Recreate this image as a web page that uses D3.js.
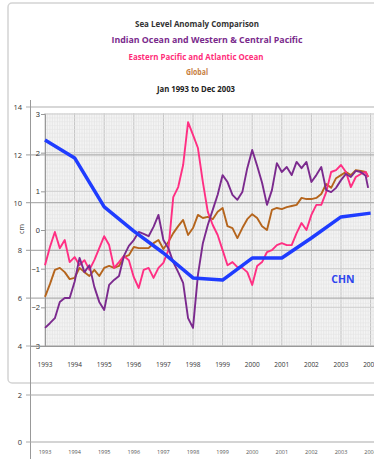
<!DOCTYPE html>
<html>
<head>
<meta charset="utf-8">
<script src="https://cdn.jsdelivr.net/npm/d3@7"></script>
<style>
  body { margin: 0; background: #fff; }
  svg { display: block; font-family: "Open Sans", "Liberation Sans", sans-serif; }
</style>
</head>
<body>
<div id="chart"></div>
<script>
// months since Jan 1993 (sampled every 2 months, last = Dec 2003)
var months = [0,2,4,6,8,10,12,14,16,18,20,22,24,26,28,30,32,34,36,38,40,42,44,46,48,50,52,54,56,58,60,62,64,66,68,70,72,74,76,78,80,82,84,86,88,90,92,94,96,98,100,102,104,106,108,110,112,114,116,118,120,122,124,126,128,130,131];

// Indian Ocean and Western & Central Pacific
var indianWest = [-2.53,-2.41,-2.28,-1.86,-1.76,-1.76,-1.34,-0.72,-1.09,-0.91,-1.47,-1.86,-2.07,-1.42,-1.29,-1.19,-0.67,-0.41,-0.26,-0.05,-0.10,-0.16,0.08,0.39,-0.26,-0.47,-0.83,-1.09,-1.37,-2.28,-2.53,-1.16,-0.34,0.13,0.52,0.91,1.42,1.24,0.91,0.78,0.98,1.60,2.07,1.66,1.22,0.65,1.03,1.73,1.50,1.63,1.42,1.76,1.60,1.76,1.24,1.42,1.63,1.03,0.98,1.09,1.29,1.45,1.37,1.53,1.50,1.40,1.09];

// Eastern Pacific and Atlantic Ocean
var eastAtlantic = [-0.91,-0.44,-0.05,-0.47,-0.26,-0.83,-0.70,-0.91,-0.78,-1.03,-0.78,-0.47,-0.16,-0.39,-0.98,-0.83,-0.67,-0.78,-1.22,-1.50,-1.03,-0.98,-1.24,-0.98,-0.85,-0.52,0.85,1.11,1.68,2.79,2.46,2.12,1.24,0.47,0.13,-0.13,-0.52,-0.91,-0.83,-0.96,-0.98,-1.09,-1.42,-0.93,-0.83,-0.57,-0.52,-0.39,-0.34,-0.39,-0.39,-0.08,0.18,0.00,0.39,0.65,0.65,0.98,1.50,1.55,1.68,1.50,1.11,1.37,1.45,1.50,1.37];

// Global
var globalSeries = [-1.73,-1.40,-1.03,-0.98,-1.09,-1.27,-1.24,-0.98,-1.09,-1.19,-1.03,-1.19,-0.98,-0.93,-0.98,-0.93,-0.70,-0.65,-0.44,-0.47,-0.47,-0.47,-0.34,-0.26,-0.49,-0.31,-0.08,0.10,0.26,-0.13,0.05,0.39,0.31,0.34,0.28,0.47,0.57,0.10,0.05,-0.21,0.05,0.28,0.41,0.31,0.10,0.00,0.52,0.57,0.54,0.59,0.62,0.65,0.83,0.80,0.80,0.83,0.93,1.19,1.09,1.34,1.42,1.50,1.42,1.55,1.53,1.50,1.37];

// CHN (annual, cm, left outer axis)
var chnYears = [1993,1994,1995,1996,1997,1998,1999,2000,2001,2002,2003,2004];
var chnValues = [12.62,11.87,9.82,8.81,7.89,6.85,6.76,7.68,7.68,8.52,9.40,9.56];

var yearLabels = ["1993","1994","1995","1996","1997","1998","1999","2000","2001","2002","2003","2004"];
var outerTicks = [4,6,8,10,12,14];
var innerTicks = [-3,-2,-1,0,1,2,3];
var lowerTicks = [0,2];

var titles = [
  {text: "Sea Level Anomaly Comparison", color: "#333", x: 197, y: 27, w: 124},
  {text: "Indian Ocean and Western & Central Pacific", color: "#7a2a8c", x: 207, y: 43, w: 191},
  {text: "Eastern Pacific and Atlantic Ocean", color: "#ff2d7a", x: 196, y: 60, w: 135},
  {text: "Global", color: "#c7803f", x: 197, y: 75, w: 22},
  {text: "Jan 1993 to Dec 2003", color: "#222", x: 196, y: 92, w: 78}
];

var W = 374, H = 459;
var svg = d3.select("#chart").append("svg").attr("width", W).attr("height", H);

// chart frame
svg.append("rect").attr("x", 8).attr("y", 3).attr("width", W).attr("height", 380)
  .attr("rx", 4).attr("fill", "#fff").attr("stroke", "#d4d4d4").attr("stroke-width", 1.5);

// scales
var x = d3.scaleLinear().domain([0, 132]).range([45, 370.6]);
var yIn = d3.scaleLinear().domain([-3, 3]).range([346, 114]);
var yOut = d3.scaleLinear().domain([4, 14]).range([346, 107]);
var yLow = d3.scaleLinear().domain([0, 2]).range([442, 395]);

var plotL = 45, plotR = W, plotT = 113, plotB = 346;

// plot background + dense grid
var grid = svg.append("g");
grid.append("rect").attr("x", plotL).attr("y", plotT).attr("width", plotR - plotL).attr("height", plotB - plotT)
  .attr("fill", "#f4f4f4");
grid.selectAll("line.mv").data(d3.range(0, 134, 1)).enter().append("line")
  .attr("x1", function (d) { return x(d); }).attr("x2", function (d) { return x(d); })
  .attr("y1", plotT).attr("y2", plotB)
  .attr("stroke", function (d) { return d % 12 === 0 ? "#c2c2c2" : "#e2e2e2"; })
  .attr("stroke-width", function (d) { return d % 12 === 0 ? 1 : 0.7; });
grid.selectAll("line.mh").data(d3.range(-3, 3.01, 0.1)).enter().append("line")
  .attr("x1", plotL).attr("x2", plotR)
  .attr("y1", function (d) { return yIn(d); }).attr("y2", function (d) { return yIn(d); })
  .attr("stroke", "#e4e4e4").attr("stroke-width", 0.6);
grid.selectAll("line.ig").data(innerTicks).enter().append("line")
  .attr("x1", plotL).attr("x2", plotR)
  .attr("y1", function (d) { return yIn(d); }).attr("y2", function (d) { return yIn(d); })
  .attr("stroke", "#d0d0d0").attr("stroke-width", 1);
// outer gridlines
grid.selectAll("line.og").data(outerTicks).enter().append("line")
  .attr("x1", 26).attr("x2", plotR)
  .attr("y1", function (d) { return yOut(d); }).attr("y2", function (d) { return yOut(d); })
  .attr("stroke", "#b0b0b0").attr("stroke-width", 1.2);

// outer left axis (cm)
svg.append("line").attr("x1", 30.5).attr("x2", 30.5).attr("y1", 100).attr("y2", H)
  .attr("stroke", "#999").attr("stroke-width", 1);
svg.selectAll("text.ot").data(outerTicks).enter().append("text")
  .attr("x", 22).attr("y", function (d) { return yOut(d) + 3; })
  .attr("text-anchor", "end").attr("font-size", 7.5).attr("fill", "#333")
  .text(function (d) { return d; });
svg.append("text").attr("transform", "translate(24,229) rotate(-90)")
  .attr("text-anchor", "middle").attr("font-size", 7).attr("fill", "#444").text("cm");

// inner axis
svg.append("g").attr("transform", "translate(" + plotL + ",0)")
  .call(d3.axisLeft(yIn).tickValues(innerTicks).tickSize(4).tickFormat(d3.format("d")))
  .call(function (g) {
    g.select(".domain").attr("stroke", "#999");
    g.selectAll(".tick line").attr("stroke", "#999");
    g.selectAll(".tick text").attr("font-size", 7.5).attr("fill", "#333").attr("x", -5);
  });

// bottom axis of top panel
svg.append("line").attr("x1", 30).attr("x2", plotR).attr("y1", plotB + 0.5).attr("y2", plotB + 0.5)
  .attr("stroke", "#999");
svg.selectAll("text.yr").data(yearLabels).enter().append("text")
  .attr("x", function (d, i) { return x(i * 12); }).attr("y", 367)
  .attr("text-anchor", "middle").attr("font-size", 6.5).attr("fill", "#333")
  .text(function (d) { return d; });

// series lines
var line = d3.line()
  .x(function (d) { return x(d[0]); })
  .y(function (d) { return yIn(d[1]); });
var series = [
  {vals: globalSeries, color: "#b5651d"},
  {vals: eastAtlantic, color: "#ff2f83"},
  {vals: indianWest, color: "#7b2a8e"}
];
series.forEach(function (s) {
  svg.append("path")
    .datum(months.map(function (m, i) { return [m, s.vals[i]]; }))
    .attr("d", line).attr("fill", "none")
    .attr("stroke", s.color).attr("stroke-width", 1.9).attr("stroke-linejoin", "round");
});

// CHN line
var chnLine = d3.line()
  .x(function (d) { return x((d[0] - 1993) * 12); })
  .y(function (d) { return yOut(d[1]); });
svg.append("path")
  .datum(chnYears.map(function (yv, i) { return [yv, chnValues[i]]; }))
  .attr("d", chnLine).attr("fill", "none")
  .attr("stroke", "#1f3cff").attr("stroke-width", 3.5).attr("stroke-linejoin", "round");
svg.append("text").attr("x", 343).attr("y", 283).attr("text-anchor", "middle")
  .attr("font-size", 10.5).attr("font-weight", "bold").attr("fill", "#2d45ee").text("CHN");

// titles
svg.selectAll("text.title").data(titles).enter().append("text")
  .attr("x", function (d) { return d.x; }).attr("y", function (d) { return d.y; })
  .attr("text-anchor", "middle").attr("font-size", 9.5).attr("font-weight", "bold")
  .attr("fill", function (d) { return d.color; })
  .attr("textLength", function (d) { return d.w; }).attr("lengthAdjust", "spacingAndGlyphs")
  .text(function (d) { return d.text; });

// lower panel
svg.selectAll("line.low").data(lowerTicks).enter().append("line")
  .attr("x1", 26).attr("x2", W)
  .attr("y1", function (d) { return yLow(d); }).attr("y2", function (d) { return yLow(d); })
  .attr("stroke", "#aaa").attr("stroke-width", 1.2);
svg.selectAll("text.lt").data(lowerTicks).enter().append("text")
  .attr("x", 22).attr("y", function (d) { return yLow(d) + 3; })
  .attr("text-anchor", "end").attr("font-size", 7.5).attr("fill", "#333")
  .text(function (d) { return d; });
svg.selectAll("text.yr2").data(yearLabels).enter().append("text")
  .attr("x", function (d, i) { return x(i * 12); }).attr("y", 454)
  .attr("text-anchor", "middle").attr("font-size", 5.5).attr("fill", "#555")
  .text(function (d) { return d; });
</script>
</body>
</html>
